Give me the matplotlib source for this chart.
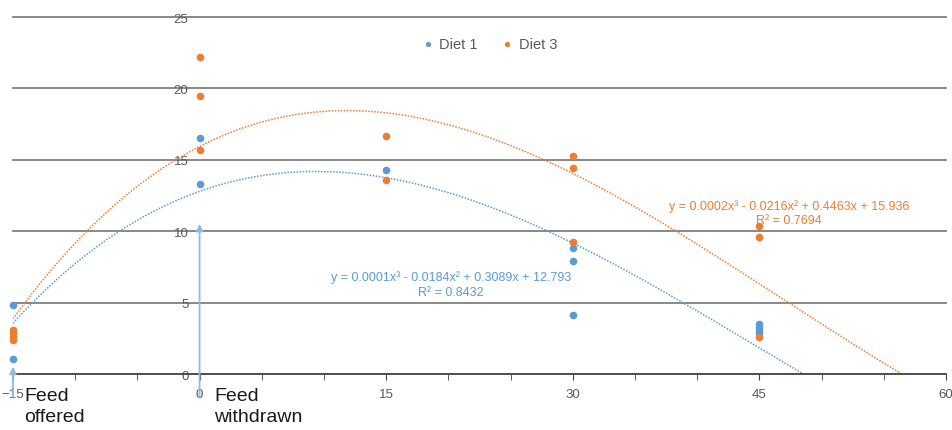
import numpy as np
import matplotlib
matplotlib.use('Agg')
import matplotlib.pyplot as plt

plt.rcParams['font.family'] = ['Liberation Sans', 'DejaVu Sans']

# Diet 1 (blue) readings
diet1_x = [-15, -15, 0, 0, 15, 30, 30, 30, 45, 45, 45, 45]
diet1_y = [4.8, 1.05, 16.5, 13.3, 14.3, 8.8, 7.9, 4.1, 3.5, 3.3, 3.1, 2.9]

# Diet 3 (orange) readings
diet3_x = [-15, -15, -15, -15, 0, 0, 0, 15, 15, 30, 30, 30, 45, 45, 45]
diet3_y = [3.1, 2.9, 2.6, 2.4, 22.2, 19.5, 15.7, 16.7, 13.6, 15.3, 14.4, 9.25, 10.4, 9.6, 2.6]

# cubic trendline coefficients (highest power first)
diet1_fit = [0.000136, -0.0184, 0.3089, 12.793]
diet3_fit = [0.000154, -0.0216, 0.4463, 15.936]

diet1_eq = "y = 0.0001x³ - 0.0184x² + 0.3089x + 12.793\nR² = 0.8432"
diet3_eq = "y = 0.0002x³ - 0.0216x² + 0.4463x + 15.936\nR² = 0.7694"

xticks = [-15, 0, 15, 30, 45, 60]
yticks = [0, 5, 10, 15, 20, 25]

blue = '#5B9BD5'
orange = '#ED7D31'

fig = plt.figure(figsize=(9.53, 4.31), dpi=100)
ax = fig.add_axes([0.0136, 0.1299, 0.9791, 0.8283])

ax.set_xlim(-15, 60)
ax.set_ylim(0, 25)

# gridlines
for v in yticks[1:]:
    ax.axhline(v, color='#7f7f7f', lw=1.3, zorder=1, clip_on=False)

xs = np.linspace(-15, 60, 400)
ax.plot(xs, np.polyval(diet1_fit, xs), color=blue, ls=(0, (1, 1)), lw=1.1, zorder=2)
ax.plot(xs, np.polyval(diet3_fit, xs), color=orange, ls=(0, (1, 1)), lw=1.1, zorder=2)

ax.scatter(diet1_x, diet1_y, s=20, color=blue, label='Diet 1', zorder=3, clip_on=False)
ax.scatter(diet3_x, diet3_y, s=20, color=orange, label='Diet 3', zorder=3, clip_on=False)

# axes styling
for s in ['top', 'right']:
    ax.spines[s].set_visible(False)
ax.spines['left'].set_position(('data', 0))
ax.spines['left'].set_visible(False)
ax.spines['bottom'].set_color('#404040')
ax.spines['bottom'].set_linewidth(1.3)
ax.set_xticks(xticks)
ax.set_xticks(np.arange(-15, 61, 5), minor=True)
ax.set_yticks(yticks)
ax.tick_params(axis='x', which='both', direction='out', length=4, color='#404040',
               labelsize=9.5, labelcolor='#595959', pad=6)
ax.tick_params(axis='y', length=0, labelsize=9.5, labelcolor='#595959', pad=8)

# feed arrows
ax.annotate('', xy=(0, 10.7), xytext=(0, -1.8), xycoords='data',
            arrowprops=dict(arrowstyle='-|>', color='#8DBBE6', lw=1.3, mutation_scale=10),
            annotation_clip=False, zorder=4)
ax.annotate('', xy=(-15, 0.7), xytext=(-15, -1.8), xycoords='data',
            arrowprops=dict(arrowstyle='-|>', color='#8DBBE6', lw=1.3, mutation_scale=10),
            annotation_clip=False, zorder=4)

ax.text(-14.1, -0.9, 'Feed\noffered', fontsize=14, color='#1a1a1a', va='top', ha='left',
        linespacing=1.3)
ax.text(1.2, -0.9, 'Feed\nwithdrawn', fontsize=14, color='#1a1a1a', va='top', ha='left',
        linespacing=1.3)

ax.text(20.2, 6.3, diet1_eq, fontsize=9, color=blue, ha='center', va='center',
        linespacing=1.3)
ax.text(47.4, 11.3, diet3_eq, fontsize=9, color=orange, ha='center', va='center',
        linespacing=1.3)

ax.legend(loc='center', bbox_to_anchor=(0.506, 0.924), ncol=2, frameon=False,
          fontsize=10.5, labelcolor='#595959', handletextpad=-0.2, columnspacing=1.0,
          markerscale=0.6)

fig.savefig('out.png', dpi=100)
